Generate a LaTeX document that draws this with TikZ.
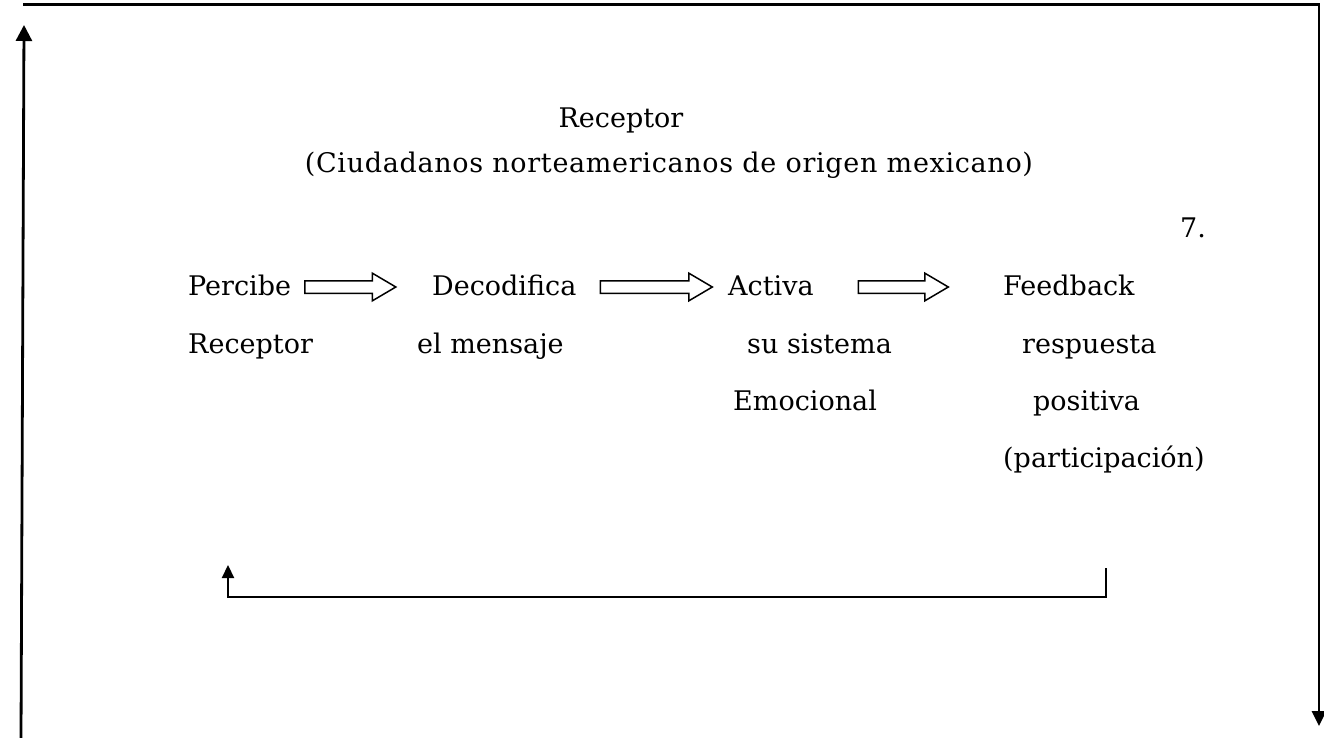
\documentclass[tikz,border=0pt]{standalone}
\usepackage{fontspec}
\setmainfont{DejaVu Serif}
\usetikzlibrary{arrows.meta,shapes.arrows}
\begin{document}
\begin{tikzpicture}[x=1pt,y=-1pt,
  lbl/.style={anchor=base west,inner sep=0pt,font=\fontsize{27}{32}\selectfont},
  ctr/.style={lbl,anchor=base},
  blockarrow/.style={draw,line width=1.5pt,single arrow,single arrow head extend=7.5pt,
    single arrow tip angle=61,minimum width=0pt,inner xsep=0pt,inner ysep=5.5pt,anchor=center},
  frame/.style={line width=2.8pt,line join=miter},
  fbloop/.style={line width=2.2pt,line join=miter}]
\useasboundingbox (0,0) rectangle (1324,738);
% texts
\node[ctr] (rec) at (621,128) {Receptor};
\node[ctr] (ciu) at (669,172) {\addfontfeature{LetterSpace=2.5}(Ciudadanos norteamericanos de origen mexicano)};
\node[lbl] (num) at (1180,237) {7.};
\node[lbl] (per) at (188,295) {Percibe};
\node[lbl] (dec) at (432,295) {Decodifica};
\node[lbl] (act) at (728,295) {Activa};
\node[lbl] (fee) at (1003,295) {Feedback};
\node[lbl] (rec2) at (188,353) {Receptor};
\node[lbl] (men) at (417,353) {el mensaje};
\node[lbl] (sis) at (747,353) {su sistema};
\node[lbl] (res) at (1022,353) {respuesta};
\node[lbl] (emo) at (733,410) {Emocional};
\node[lbl] (pos) at (1033,410) {positiva};
\node[lbl] (par) at (1003,467) {(participación)};
% block arrows
\node[blockarrow,minimum height=91pt] (a1) at (345,287) {};
\node[blockarrow,minimum height=112pt] (a2) at (651,287) {};
\node[blockarrow,minimum height=90pt] (a3) at (898,287) {};
% outer frame
\coordinate (tl) at (23,4.5);
\coordinate (tr) at (1319,4.5);
\coordinate (br) at (1319,726);
\coordinate (bl) at (21,738);
\coordinate (lt) at (24,25);
\draw[frame,-{Triangle[width=14pt,length=15pt]}] (tl) -- (tr) -- (br);
\draw[frame,-{Triangle[width=16pt,length=16pt]}] (bl) -- (lt);
% feedback loop
\coordinate (fbtop) at (1106,568);
\coordinate (fbbot) at (1106,597);
\coordinate (rcbot) at (228,597);
\coordinate (rctop) at (228,565);
\draw[fbloop,-{Triangle[width=12pt,length=13pt]}] (fbtop) -- (fbbot) -- (rcbot) -- (rctop);
\end{tikzpicture}
\end{document}
